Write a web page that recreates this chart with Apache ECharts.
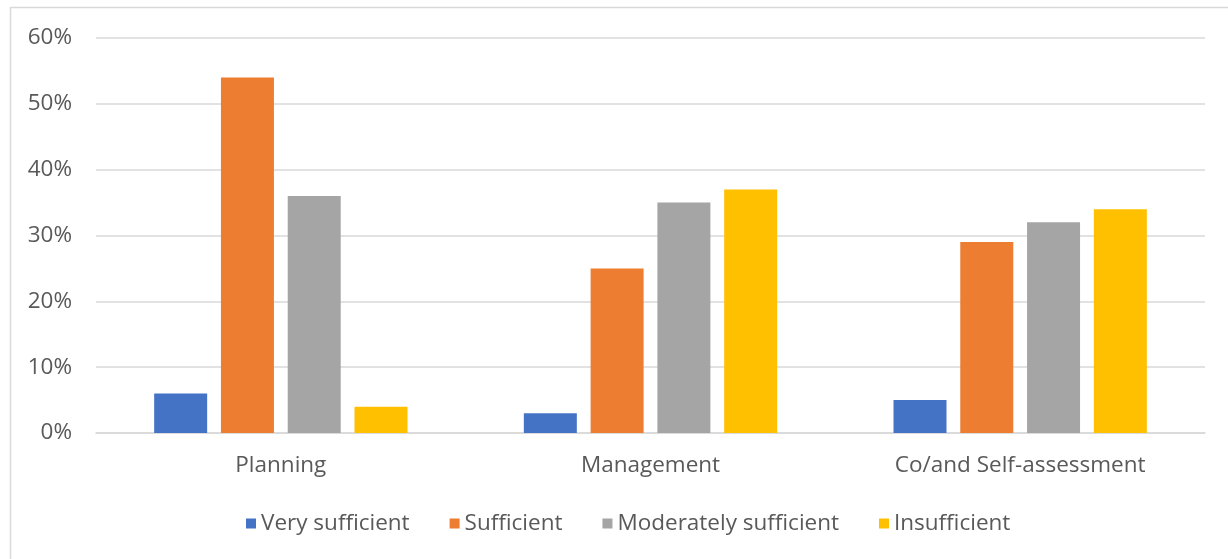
<!DOCTYPE html>
<html>
<head>
<meta charset="utf-8">
<script src="https://cdn.jsdelivr.net/npm/echarts@6/dist/echarts.min.js"></script>
<style>
  html, body { margin: 0; padding: 0; background: #ffffff; }
  #chart { width: 1228px; height: 559px; }
</style>
</head>
<body>
<div id="chart"></div>
<script>
// Categories along the x axis
const categories = ['Planning', 'Management', 'Co/and Self-assessment'];

// Share of responses (%) for each rating level
const verySufficient = [6, 3, 5];
const sufficient = [54, 25, 29];
const moderatelySufficient = [36, 35, 32];
const insufficient = [4, 37, 34];

const seriesNames = ['Very sufficient', 'Sufficient', 'Moderately sufficient', 'Insufficient'];
const seriesColors = ['#4472C4', '#ED7D31', '#A5A5A5', '#FFC000'];
const seriesValues = [verySufficient, sufficient, moderatelySufficient, insufficient];

const FONT = '"Open Sans", "Noto Sans", sans-serif';
const FONT_SIZE = 22.5;

const chart = echarts.init(document.getElementById('chart'), null, { renderer: 'canvas' });

chart.setOption({
  backgroundColor: '#ffffff',
  animation: false,
  graphic: [{
    type: 'rect',
    shape: { x: 10.5, y: 7.5, width: 1230, height: 560 },
    style: { fill: 'none', stroke: '#d9d9d9', lineWidth: 1.5 },
    silent: true
  }],
  grid: { left: 96, right: 23, top: 38, bottom: 126, containLabel: false },
  xAxis: {
    type: 'category',
    data: categories,
    axisTick: { show: false },
    axisLine: { show: true, lineStyle: { color: '#d9d9d9', width: 1.5 } },
    axisLabel: { color: '#595959', fontFamily: FONT, fontSize: FONT_SIZE, margin: 21 }
  },
  yAxis: {
    type: 'value',
    min: 0,
    max: 60,
    interval: 10,
    axisLine: { show: false },
    axisTick: { show: false },
    splitLine: { lineStyle: { color: '#d9d9d9', width: 1.5 } },
    axisLabel: { color: '#595959', fontFamily: FONT, fontSize: FONT_SIZE, margin: 24, formatter: '{value}%' }
  },
  legend: {
    bottom: 19,
    left: 241,
    itemWidth: 10,
    itemHeight: 10,
    itemGap: 40,
    icon: 'rect',
    textStyle: { color: '#595959', fontFamily: FONT, fontSize: FONT_SIZE, padding: [0, 0, 0, 0] },
    data: seriesNames
  },
  series: seriesNames.map((name, i) => ({
    name: name,
    type: 'bar',
    data: seriesValues[i],
    barWidth: 53,
    barGap: '26%',
    itemStyle: { color: seriesColors[i] }
  }))
});
</script>
</body>
</html>
